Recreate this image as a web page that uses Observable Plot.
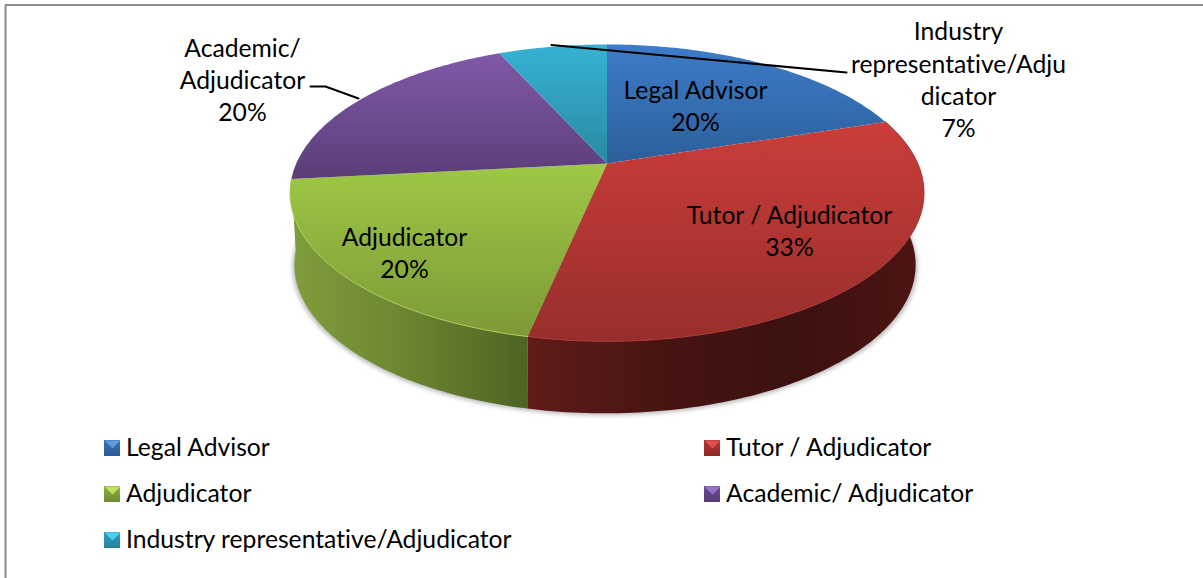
<!DOCTYPE html>
<html><head><meta charset="utf-8">
<script src="https://cdn.jsdelivr.net/npm/d3@7"></script>
<script src="https://cdn.jsdelivr.net/npm/@observablehq/plot@0.6"></script>
<style>html,body{margin:0;padding:0;background:#fff}svg{display:block}svg text{font-variant-ligatures:none}</style>
</head><body><div id="chart"></div>
<script>
// ---- data ----
const categories = ["Legal Advisor", "Tutor / Adjudicator", "Adjudicator", "Academic/ Adjudicator", "Industry representative/Adjudicator"];
const shares = [20, 33.3, 20, 20, 6.7];
const sliceLabels = ["Legal Advisor", "Tutor / Adjudicator", "Adjudicator", "Academic/\nAdjudicator", "Industry\nrepresentative/Adju\ndicator"];

// ---- layout & style (separate from the data) ----
const W = 1203, H = 578;
const FONT = "Lato, Carlito, 'Open Sans', sans-serif";
const FS = 24.7;
const pie = {cx: 606.5, cy: 163, A: 310.7, B: 142.6, k: 0.198, depth: 72, shrink: 0.98, dx: -2};
const faceStops = [["#3d7cc9","#2c5f9a"],["#cb3d3a","#972e2b"],["#9fc845","#7c9a37"],["#8059a8","#5a3e77"],["#36b2d4","#298aa3"]];
const sideStops = [null,["#601c19","#471412","#3c110f","#4c1513"],["#7f9e3c","#6a8530","#4d6423"],null,null];
const swatchDark = ["#2c5a94","#8f2a28","#6e8a30","#553a75","#26819b"];
const swatchMid = ["#3a72b8","#b63532","#8dae3c","#6e4d96","#2f9fbe"];
const swatchLight = ["#5b9be0","#e0504c","#c0e060","#9a72c8","#50cdf0"];
const labelPos = [[695,104],[789,229],[404,251],[242,78],[958,78]];
const legendCols = [104, 704], legendRows = [448, 494, 540];

// projection of the tilted disc
const project = (deg, ring = 0) => {
  const t = deg * Math.PI / 180, u = Math.sin(t), v = -Math.cos(t), w = 1 - pie.k * v;
  const s = ring ? pie.shrink : 1;
  return {x: pie.cx + (ring ? pie.dx : 0) + s * pie.A * u / w, y: pie.cy + pie.B * v / w + (ring ? pie.depth : 0)};
};
const total = d3.sum(shares);
const cum = d3.cumsum(shares);
const slices = shares.map((v, i) => {
  const a1 = cum[i] / total * 360, a0 = a1 - v / total * 360;
  return {i, a0, a1, mid: (a0 + a1) / 2};
});
const arc = (a0, a1, ring) => {
  const n = Math.ceil(a1 - a0), out = [];
  for (let j = 0; j <= n; j++) out.push(project(a0 + (a1 - a0) * j / n, ring));
  return out;
};
const face = s => [{x: pie.cx, y: pie.cy}, ...arc(s.a0, s.a1, 0)];
const side = s => [...arc(s.a0, s.a1, 0), ...arc(s.a0, s.a1, 1).reverse()];
const front = slices.filter(s => Math.cos(s.mid * Math.PI / 180) < 0);
const disc = arc(60, 280, 1);

const defs = () => {
  const d = d3.create("svg:defs");
  const grad = (id, stops, horizontal) => {
    const g = d.append("linearGradient").attr("id", id)
      .attr("x1", 0).attr("y1", 0).attr("x2", horizontal ? 1 : 0).attr("y2", horizontal ? 0 : 1);
    stops.forEach((c, j) => g.append("stop").attr("offset", j / (stops.length - 1)).attr("stop-color", c));
  };
  faceStops.forEach((c, i) => grad(`face${i}`, c));
  sideStops.forEach((c, i) => c && grad(`side${i}`, c, true));
  swatchDark.forEach((c, i) => grad(`sw${i}`, [swatchMid[i], c]));
  return d.node();
};

const poly = (pts, opt) => Plot.line(pts, {x: "x", y: "y", stroke: "none", curve: "linear", ...opt});
const seg = (pts, w = 2) => Plot.line(pts, {x: "x", y: "y", stroke: "#000", strokeWidth: w, curve: "linear"});
const legendAt = i => ({x: legendCols[i % 2], y: legendRows[Math.floor(i / 2)]});

const marks = [
  defs,
  // frame: only the top and left edges are visible
  Plot.line([{x: 5, y: H}, {x: 5, y: 4.5}, {x: W, y: 4.5}], {x: "x", y: "y", stroke: "#8a8a8a", strokeWidth: 2})
];
// soft shadow
marks.push(poly(disc.map(p => ({x: p.x + (p.x - pie.cx) * 0.006, y: p.y + 2})), {fill: "#555", fillOpacity: 0.4, imageFilter: "blur(2px)"}));
// sides
front.forEach(s => marks.push(poly(side(s), {fill: `url(#side${s.i})`})));
// faces
slices.forEach(s => marks.push(poly(face(s), {fill: `url(#face${s.i})`})));
// light rim on the near edge
front.forEach(s => marks.push(Plot.line(arc(s.a0, s.a1, 0), {x: "x", y: "y", stroke: s.i === 2 ? "#aed058" : "#a83a36", strokeWidth: 1})));
// leader lines
marks.push(seg([{x: 310, y: 86}, {x: 325, y: 86}, {x: 358, y: 98}]));
marks.push(seg([{x: 551, y: 44.5}, {x: 846, y: 72}]));
// slice labels
marks.push(Plot.text(slices, {
  x: s => labelPos[s.i][0], y: s => labelPos[s.i][1],
  text: s => `${sliceLabels[s.i]}\n${Math.round(shares[s.i])}%`,
  fontSize: FS, lineHeight: 32.3 / FS, fill: "#000", textAnchor: "middle"
}));
// legend
categories.forEach((c, i) => {
  const p = legendAt(i), h = 8;
  marks.push(Plot.rect([p], {x1: d => d.x, x2: d => d.x + 2 * h, y1: d => d.y - h, y2: d => d.y + h, fill: `url(#sw${i})`, inset: 0}));
  marks.push(poly([{x: p.x, y: p.y - h}, {x: p.x + 2 * h, y: p.y - h}, {x: p.x + h, y: p.y}], {fill: swatchLight[i]}));
});
marks.push(Plot.text(categories, {
  x: (d, i) => legendAt(i).x + 21.5, y: (d, i) => legendAt(i).y - 0.5, text: d => d,
  fontSize: FS, fill: "#000", textAnchor: "start"
}));

const chart = Plot.plot({
  width: W, height: H, margin: 0,
  style: {fontFamily: FONT, background: "#fff"},
  x: {domain: [0, W], range: [0, W], axis: null},
  y: {domain: [0, H], range: [0, H], axis: null},
  marks
});
document.getElementById("chart").append(chart);
</script></body></html>
